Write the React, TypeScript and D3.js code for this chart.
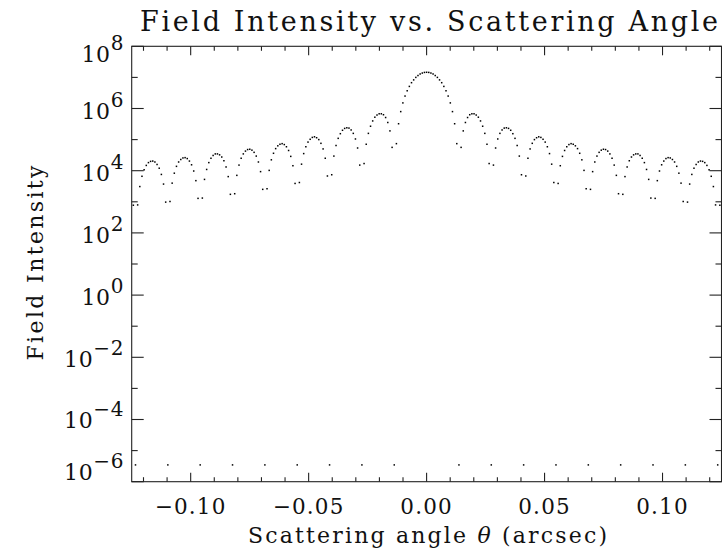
import React from "react";
import * as d3 from "d3";

// Sample grid (scattering angle in arcsec)
const sampleStart = -136;
const sampleEnd = 136;
const thetaStep = 0.000914;

// log10 of field intensity at each sample (left to right)
const logIntensity: number[] = [
  2.89, -5.46,
  2.90, 3.49, 3.82, 4.03, 4.17, 4.26, 4.30, 4.31, 4.28, 4.20, 4.08, 3.88, 3.57, 2.99, -5.46,
  3.01, 3.60, 3.92, 4.14, 4.28, 4.36, 4.41, 4.42, 4.39, 4.31, 4.19, 3.99, 3.68, 3.11, -5.46,
  3.12, 3.72, 4.04, 4.26, 4.40, 4.49, 4.54, 4.54, 4.51, 4.44, 4.32, 4.12, 3.81, 3.24, -5.46,
  3.26, 3.85, 4.18, 4.40, 4.54, 4.63, 4.68, 4.69, 4.66, 4.59, 4.47, 4.28, 3.97, 3.40, -5.46,
  3.42, 4.01, 4.35, 4.56, 4.71, 4.80, 4.85, 4.87, 4.84, 4.77, 4.65, 4.46, 4.16, 3.59, -5.46,
  3.62, 4.21, 4.55, 4.77, 4.92, 5.01, 5.07, 5.09, 5.06, 5.00, 4.88, 4.70, 4.40, 3.83, -5.46,
  3.87, 4.47, 4.81, 5.04, 5.19, 5.30, 5.36, 5.38, 5.37, 5.31, 5.20, 5.02, 4.73, 4.18, -5.46,
  4.23, 4.85, 5.20, 5.43, 5.60, 5.72, 5.79, 5.83, 5.83, 5.80, 5.71, 5.55, 5.28, 4.75, -5.46,
  4.87, 5.51, 5.90, 6.18, 6.40, 6.57, 6.71, 6.83, 6.92, 7.00, 7.06, 7.11, 7.14, 7.16,
  7.165,
  7.16, 7.14, 7.11, 7.06, 7.00, 6.92, 6.83, 6.71, 6.57, 6.40, 6.18, 5.90, 5.51, 4.87,
  -5.46, 4.75, 5.28, 5.55, 5.71, 5.80, 5.83, 5.83, 5.79, 5.72, 5.60, 5.43, 5.20, 4.85, 4.23,
  -5.46, 4.18, 4.73, 5.02, 5.20, 5.31, 5.37, 5.38, 5.36, 5.30, 5.19, 5.04, 4.81, 4.47, 3.87,
  -5.46, 3.83, 4.40, 4.70, 4.88, 5.00, 5.06, 5.09, 5.07, 5.01, 4.92, 4.77, 4.55, 4.21, 3.62,
  -5.46, 3.59, 4.16, 4.46, 4.65, 4.77, 4.84, 4.87, 4.85, 4.80, 4.71, 4.56, 4.35, 4.01, 3.42,
  -5.46, 3.40, 3.97, 4.28, 4.47, 4.59, 4.66, 4.69, 4.68, 4.63, 4.54, 4.40, 4.18, 3.85, 3.26,
  -5.46, 3.24, 3.81, 4.12, 4.32, 4.44, 4.51, 4.54, 4.54, 4.49, 4.40, 4.26, 4.04, 3.72, 3.12,
  -5.46, 3.11, 3.68, 3.99, 4.19, 4.31, 4.39, 4.42, 4.41, 4.36, 4.28, 4.14, 3.92, 3.60, 3.01,
  -5.46, 2.99, 3.57, 3.88, 4.08, 4.20, 4.28, 4.31, 4.30, 4.26, 4.17, 4.03, 3.82, 3.49, 2.90,
  -5.46, 2.89,
];

const xMajorTicks = [-0.1, -0.05, 0, 0.05, 0.1];
const xMajorLabels = ["\u22120.10", "\u22120.05", "0.00", "0.05", "0.10"];
const xMinorTicks = [-0.12, -0.11, -0.09, -0.08, -0.07, -0.06, -0.04, -0.03, -0.02, -0.01,
  0.01, 0.02, 0.03, 0.04, 0.06, 0.07, 0.08, 0.09, 0.11, 0.12];
const yExponents = [8, 7, 6, 5, 4, 3, 2, 1, 0, -1, -2, -3, -4, -5, -6];
const yLabelExponents = [8, 6, 4, 2, 0, -2, -4, -6];
const yLabelBaselineShift = [16, 10, 10, 10, 10, 9.5, 8.5, -1.5];

const titleText = "Field Intensity vs. Scattering Angle";
const yTitle = "Field Intensity";

const W = 722, H = 551;
const L = 131.7, R = 721.5, T = 46.3, B = 481.7;
const FONT = "'DejaVu Serif', serif";
const INK = "#111";

export default function App() {
  const x = d3.scaleLinear().domain([-0.125, 0.125]).range([L, R]);
  const y = d3.scaleLog().domain([1e-6, 1e8]).range([B, T]);
  const ks = d3.range(sampleStart, sampleEnd + 1);
  const pts = ks.map((k, i) => ({ t: k * thetaStep, v: Math.pow(10, logIntensity[i]) }));
  const xMajLen = 9, xMinLen = 4.5, yMajLen = 12, yMinLen = 6;

  return (
    <svg width={W} height={H} style={{ position: "absolute", left: 0, top: 0, background: "#fff" }}
      fontFamily={FONT}>
      <rect x={0} y={0} width={W} height={H} fill="#fff" />
      {/* frame */}
      <rect x={L} y={T} width={R - L} height={B - T} fill="none" stroke="#222" strokeWidth={1.1} />
      {/* x ticks */}
      {xMajorTicks.map((t, i) => (
        <g key={"xm" + i}>
          <line x1={x(t)} x2={x(t)} y1={B} y2={B - xMajLen} stroke="#222" strokeWidth={1.1} />
          <line x1={x(t)} x2={x(t)} y1={T} y2={T + xMajLen} stroke="#222" strokeWidth={1.1} />
          <text x={x(t)} y={514} textAnchor="middle" fontSize={21.5} letterSpacing={1.2} fill={INK}>{xMajorLabels[i]}</text>
        </g>
      ))}
      {xMinorTicks.map((t, i) => (
        <g key={"xn" + i}>
          <line x1={x(t)} x2={x(t)} y1={B} y2={B - xMinLen} stroke="#222" strokeWidth={1.1} />
          <line x1={x(t)} x2={x(t)} y1={T} y2={T + xMinLen} stroke="#222" strokeWidth={1.1} />
        </g>
      ))}
      {/* y ticks */}
      {yExponents.map((e) => {
        const len = e % 2 === 0 ? yMajLen : yMinLen;
        const yy = y(Math.pow(10, e));
        return (
          <g key={"y" + e}>
            <line x1={L} x2={L + len} y1={yy} y2={yy} stroke="#222" strokeWidth={1.1} />
            <line x1={R} x2={R - len} y1={yy} y2={yy} stroke="#222" strokeWidth={1.1} />
          </g>
        );
      })}
      {yLabelExponents.map((e, i) => {
        const yy = y(Math.pow(10, e)) + yLabelBaselineShift[i];
        const expStr = e < 0 ? "\u2212" + Math.abs(e) : String(e);
        return (
          <text key={"yl" + e} x={124} y={yy} textAnchor="end" fontSize={22} letterSpacing={0.6} fill={INK}>
            10<tspan fontSize={20} dy={-12}>{expStr}</tspan>
          </text>
        );
      })}
      {/* data dots */}
      {pts.map((p, i) => (
        <rect key={i} x={x(p.t) - 0.75} y={y(p.v) - 0.75} width={1.5} height={1.5} fill="#000" />
      ))}
      {/* titles */}
      <text x={429} y={31} textAnchor="middle" fontSize={27} textLength={578} lengthAdjust="spacing" fill={INK}>{titleText}</text>
      <text x={427.5} y={543} textAnchor="middle" fontSize={22} textLength={359} lengthAdjust="spacing" fill={INK}>
        Scattering angle <tspan fontStyle="italic">θ</tspan> (arcsec)
      </text>
      <text transform={`translate(43,263) rotate(-90)`} textAnchor="middle" fontSize={22} textLength={195} lengthAdjust="spacing" fill={INK}>{yTitle}</text>
    </svg>
  );
}
